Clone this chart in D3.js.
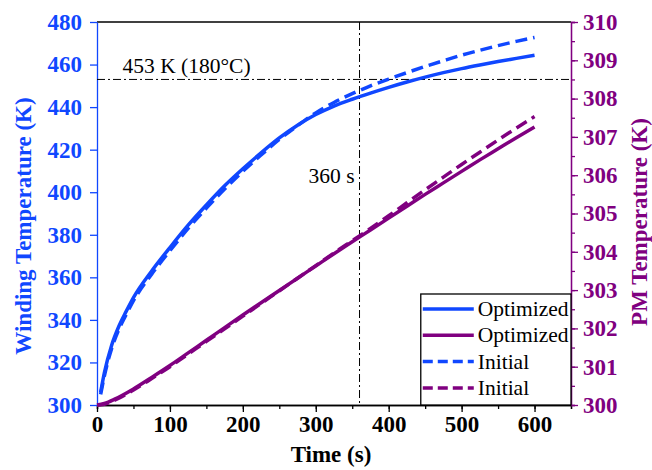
<!DOCTYPE html>
<html>
<head>
<meta charset="utf-8">
<script src="https://cdn.jsdelivr.net/npm/d3@7"></script>
<style>
  body { margin: 0; background: #fff; }
  svg text { font-family: "Liberation Serif", "Times New Roman", Times, "DejaVu Serif", serif !important; }
</style>
</head>
<body>
<div id="chart"></div>
<script>
// size of the svg
var svgWidth = 652;
var svgHeight = 470;

// plot area
var margin = { top: 22, right: 81, bottom: 65, left: 97 };
var width = svgWidth - margin.left - margin.right;
var height = svgHeight - margin.top - margin.bottom;

var blue = "#1047ff";
var purple = "#800080";
var serif = "'Liberation Serif', 'Times New Roman', Times, 'DejaVu Serif', serif";

// data
var timeWinding = [5, 10, 20, 30, 40, 50, 75, 100, 125, 150, 175, 200, 225, 250, 275, 300, 325, 350, 375, 400, 425, 450, 475, 500, 525, 550, 575, 600];
var windingOptimized = [306, 315, 328, 337, 344, 350.5, 363, 374, 384.5, 394, 403, 411, 418.5, 425.5, 431.5, 436.5, 440.5, 443.7, 446.6, 449.3, 451.8, 454.1, 456.2, 458.1, 459.8, 461.4, 462.9, 464.4];
var windingInitial = [305, 313.5, 326.5, 335.5, 342.5, 349, 361.5, 372.5, 383, 392.5, 401.5, 409.8, 417.5, 424.8, 431.3, 437.3, 442.2, 446.3, 450, 453.2, 456.2, 459.1, 461.8, 464.4, 466.7, 468.9, 470.9, 472.7];

var timePM = [0, 10, 25, 50, 75, 100, 125, 150, 175, 200, 225, 250, 275, 300, 325, 350, 375, 400, 425, 450, 475, 500, 525, 550, 575, 600];
var pmOptimized = [300, 300.04, 300.16, 300.42, 300.72, 301.03, 301.36, 301.69, 302.02, 302.35, 302.67, 302.99, 303.31, 303.63, 303.95, 304.26, 304.57, 304.88, 305.19, 305.5, 305.8, 306.1, 306.4, 306.69, 306.98, 307.26];
var pmInitial = [300, 300.02, 300.13, 300.39, 300.69, 301.0, 301.33, 301.66, 301.99, 302.32, 302.65, 302.98, 303.31, 303.64, 303.97, 304.29, 304.61, 304.94, 305.28, 305.62, 305.95, 306.28, 306.6, 306.92, 307.23, 307.53];

var xTicks = [0, 100, 200, 300, 400, 500, 600];
var yLeftTicks = [300, 320, 340, 360, 380, 400, 420, 440, 460, 480];
var yRightTicks = [300, 301, 302, 303, 304, 305, 306, 307, 308, 309, 310];

var thresholdK = 453;
var thresholdTime = 360;

var legendLabels = ["Optimized", "Optimized", "Initial", "Initial"];

var svg = d3.select("#chart")
  .append("svg")
  .attr("width", svgWidth)
  .attr("height", svgHeight)
  .style("font-family", serif);

var chartGroup = svg.append("g")
  .attr("transform", `translate(${margin.left}, ${margin.top})`);

// scales
var xScale = d3.scaleLinear().domain([0, 650]).range([0, width]);
var yLeft = d3.scaleLinear().domain([300, 480]).range([height, 0]);
var yRight = d3.scaleLinear().domain([300, 310]).range([height, 0]);

// top border
chartGroup.append("line")
  .attr("x1", 0).attr("x2", width)
  .attr("y1", 0).attr("y2", 0)
  .attr("stroke", "#000").attr("stroke-width", 1.3);

function styleTicks(g, color) {
  g.attr("font-family", null);
  g.selectAll("text")
    .attr("fill", color)
    .style("font-size", "23px")
    .style("font-weight", "bold")
    .style("font-family", serif);
}

// bottom axis, minor + major
var xMinor = chartGroup.append("g")
  .attr("transform", `translate(0, ${height})`)
  .call(d3.axisBottom(xScale).tickValues(d3.range(0, 651, 50)).tickSize(4).tickFormat(""));
var xAxis = chartGroup.append("g")
  .attr("transform", `translate(0, ${height})`)
  .call(d3.axisBottom(xScale).tickValues(xTicks).tickSize(7).tickPadding(4).tickSizeOuter(0));
[xMinor, xAxis].forEach(g => {
  g.selectAll("path, line").attr("stroke", "#000").attr("stroke-width", 1.3);
});
styleTicks(xAxis, "#000");

// left axis
var leftAxis = chartGroup.append("g")
  .call(d3.axisLeft(yLeft).tickValues(yLeftTicks).tickSize(7).tickPadding(8).tickSizeOuter(0));
leftAxis.selectAll("path, line").attr("stroke", blue).attr("stroke-width", 1.3);
styleTicks(leftAxis, blue);

// right axis, minor + major
var rightMinor = chartGroup.append("g")
  .attr("transform", `translate(${width}, 0)`)
  .call(d3.axisRight(yRight).tickValues(d3.range(300, 310.01, 0.5)).tickSize(4).tickFormat(""));
var rightAxis = chartGroup.append("g")
  .attr("transform", `translate(${width}, 0)`)
  .call(d3.axisRight(yRight).tickValues(yRightTicks).tickSize(7).tickPadding(5).tickSizeOuter(0));
[rightMinor, rightAxis].forEach(g => {
  g.selectAll("path, line").attr("stroke", purple).attr("stroke-width", 1.3);
});
styleTicks(rightAxis, purple);

// reference dash-dot lines
chartGroup.append("line")
  .attr("x1", 0).attr("x2", width)
  .attr("y1", yLeft(thresholdK)).attr("y2", yLeft(thresholdK))
  .attr("stroke", "#000").attr("stroke-width", 1)
  .attr("stroke-dasharray", "8,3,2,3");
chartGroup.append("line")
  .attr("x1", xScale(thresholdTime)).attr("x2", xScale(thresholdTime))
  .attr("y1", 0).attr("y2", height)
  .attr("stroke", "#000").attr("stroke-width", 1)
  .attr("stroke-dasharray", "8,3,2,3");

chartGroup.append("text")
  .attr("x", xScale(35))
  .attr("y", yLeft(thresholdK) - 6.5)
  .style("font-size", "21.5px")
  .text("453 K (180°C)");
chartGroup.append("text")
  .attr("x", xScale(thresholdTime) - 5)
  .attr("y", 161)
  .attr("text-anchor", "end")
  .style("font-size", "21.5px")
  .text("360 s");

// curves
var lineLeft = d3.line()
  .x(d => xScale(d[0]))
  .y(d => yLeft(d[1]))
  .curve(d3.curveMonotoneX);
var lineRight = d3.line()
  .x(d => xScale(d[0]))
  .y(d => yRight(d[1]))
  .curve(d3.curveMonotoneX);

var series = [
  { pts: d3.zip(timeWinding, windingInitial), line: lineLeft, color: blue, dash: "12,6" },
  { pts: d3.zip(timeWinding, windingOptimized), line: lineLeft, color: blue, dash: null },
  { pts: d3.zip(timePM, pmInitial), line: lineRight, color: purple, dash: "12,6" },
  { pts: d3.zip(timePM, pmOptimized), line: lineRight, color: purple, dash: null }
];

series.forEach(s => {
  chartGroup.append("path")
    .datum(s.pts)
    .attr("d", s.line)
    .attr("fill", "none")
    .attr("stroke", s.color)
    .attr("stroke-width", 3.5)
    .attr("stroke-dasharray", s.dash);
});

// legend
var legend = chartGroup.append("g")
  .attr("transform", `translate(${xScale(444)}, ${height - 111})`);
legend.append("rect")
  .attr("x", 0).attr("y", 0)
  .attr("width", width - xScale(444)).attr("height", 111)
  .attr("fill", "#fff")
  .attr("stroke", "#000").attr("stroke-width", 1.3);

var legendColors = [blue, purple, blue, purple];
var legendDash = [null, null, "10,5", "10,5"];
legendLabels.forEach((label, i) => {
  var cy = 15 + i * 26.3;
  legend.append("line")
    .attr("x1", 2).attr("x2", 53)
    .attr("y1", cy).attr("y2", cy)
    .attr("stroke", legendColors[i])
    .attr("stroke-width", 3.5)
    .attr("stroke-dasharray", legendDash[i]);
  legend.append("text")
    .attr("x", 57)
    .attr("y", cy + 7)
    .style("font-size", "21.5px")
    .text(label);
});

// axis titles
svg.append("text")
  .attr("transform", "rotate(-90)")
  .attr("x", -226)
  .attr("y", 31)
  .attr("text-anchor", "middle")
  .attr("fill", blue)
  .style("font-size", "23px")
  .style("font-weight", "bold")
  .text("Winding Temperature (K)");

svg.append("text")
  .attr("transform", "rotate(-90)")
  .attr("x", -222)
  .attr("y", 647)
  .attr("text-anchor", "middle")
  .attr("fill", purple)
  .style("font-size", "23px")
  .style("font-weight", "bold")
  .text("PM Temperature (K)");

svg.append("text")
  .attr("x", 331)
  .attr("y", 462)
  .attr("text-anchor", "middle")
  .attr("fill", "#000")
  .style("font-size", "23px")
  .style("font-weight", "bold")
  .text("Time (s)");
</script>
</body>
</html>
